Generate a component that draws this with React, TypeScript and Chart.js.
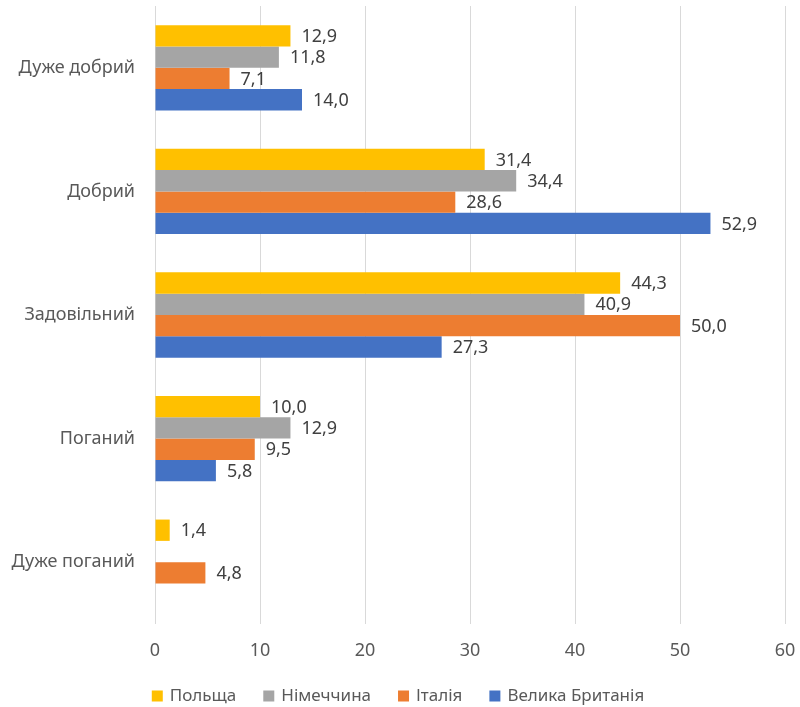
import React, { useEffect, useRef } from "react";
import { Chart, registerables } from "chart.js";

Chart.register(...registerables);

const categories = ["Дуже добрий", "Добрий", "Задовільний", "Поганий", "Дуже поганий"];
const seriesNames = ["Польща", "Німеччина", "Італія", "Велика Британія"];
const poland = [12.9, 31.4, 44.3, 10.0, 1.4];
const germany = [11.8, 34.4, 40.9, 12.9, null];
const italy = [7.1, 28.6, 50.0, 9.5, 4.8];
const uk = [14.0, 52.9, 27.3, 5.8, null];
const colors = ["#FFC000", "#A5A5A5", "#ED7D31", "#4472C4"];
const xTicks = [0, 10, 20, 30, 40, 50, 60];

const FONT = "'Noto Sans', 'Open Sans', sans-serif";
const TEXT_SIZE = 18;
const LEGEND_SIZE = 17;

const labelPlugin = {
  id: "valueLabels",
  afterDatasetsDraw(chart: any) {
    const ctx = chart.ctx;
    ctx.save();
    ctx.font = `${TEXT_SIZE}px ${FONT}`;
    ctx.fillStyle = "#404040";
    ctx.textAlign = "left";
    ctx.textBaseline = "middle";
    chart.data.datasets.forEach((ds: any, i: number) => {
      const meta = chart.getDatasetMeta(i);
      meta.data.forEach((bar: any, j: number) => {
        const v = ds.data[j];
        if (v === null || v === undefined) return;
        ctx.fillText(v.toFixed(1).replace(".", ","), bar.x + 11, bar.y + 1);
      });
    });
    ctx.restore();
  },
};

const legendPlugin = {
  id: "customLegend",
  afterDraw(chart: any) {
    const ctx = chart.ctx;
    ctx.save();
    ctx.font = `${LEGEND_SIZE}px ${FONT}`;
    ctx.textBaseline = "middle";
    ctx.textAlign = "left";
    const box = 11;
    const boxGap = 7;
    const itemGap = 27;
    const items = chart.data.datasets.map((ds: any) => ({
      label: ds.label,
      color: ds.backgroundColor,
      w: ctx.measureText(ds.label).width,
    }));
    const total =
      items.reduce((s: number, it: any) => s + box + boxGap + it.w, 0) + itemGap * (items.length - 1);
    let x = 398 - total / 2;
    const cy = 696;
    items.forEach((it: any) => {
      ctx.fillStyle = it.color;
      ctx.fillRect(x, cy - box / 2, box, box);
      x += box + boxGap;
      ctx.fillStyle = "#595959";
      ctx.fillText(it.label, x, cy);
      x += it.w + itemGap;
    });
    ctx.restore();
  },
};

export default function App() {
  const ref = useRef<HTMLCanvasElement>(null);
  useEffect(() => {
    document.body.style.margin = "0";
    const data = [poland, germany, italy, uk];
    const chart = new Chart(ref.current!, {
      type: "bar",
      data: {
        labels: categories,
        datasets: seriesNames.map((name, i) => ({
          label: name,
          data: data[i],
          backgroundColor: colors[i],
          borderWidth: 0,
          barPercentage: 1,
          categoryPercentage: 0.69,
        })),
      },
      options: {
        indexAxis: "y",
        animation: false,
        responsive: false,
        maintainAspectRatio: false,
        layout: { padding: { top: 6, right: 15, left: 0, bottom: 38 } },
        scales: {
          x: {
            min: 0,
            max: 60,
            afterBuildTicks: (axis: any) => {
              axis.ticks = xTicks.map((v) => ({ value: v }));
            },
            afterFit: (axis: any) => {
              axis.height = 45;
              axis.paddingLeft = 0;
              axis.paddingRight = 0;
            },
            grid: { color: "#D9D9D9", lineWidth: 1, drawTicks: false },
            border: { display: false },
            ticks: { color: "#595959", font: { size: TEXT_SIZE, family: FONT }, padding: 16 },
          },
          y: {
            grid: { display: false, drawTicks: false },
            border: { display: false },
            afterFit: (axis: any) => {
              axis.width = 155;
              axis.paddingTop = 0;
              axis.paddingBottom = 0;
            },
            ticks: { color: "#595959", font: { size: TEXT_SIZE, family: FONT }, padding: 20 },
          },
        },
        plugins: {
          legend: { display: false },
          tooltip: { enabled: false },
        },
      },
      plugins: [labelPlugin, legendPlugin],
    } as any);
    return () => chart.destroy();
  }, []);
  return (
    <div style={{ width: 800, height: 707 }}>
      <canvas ref={ref} width={800} height={707} />
    </div>
  );
}
